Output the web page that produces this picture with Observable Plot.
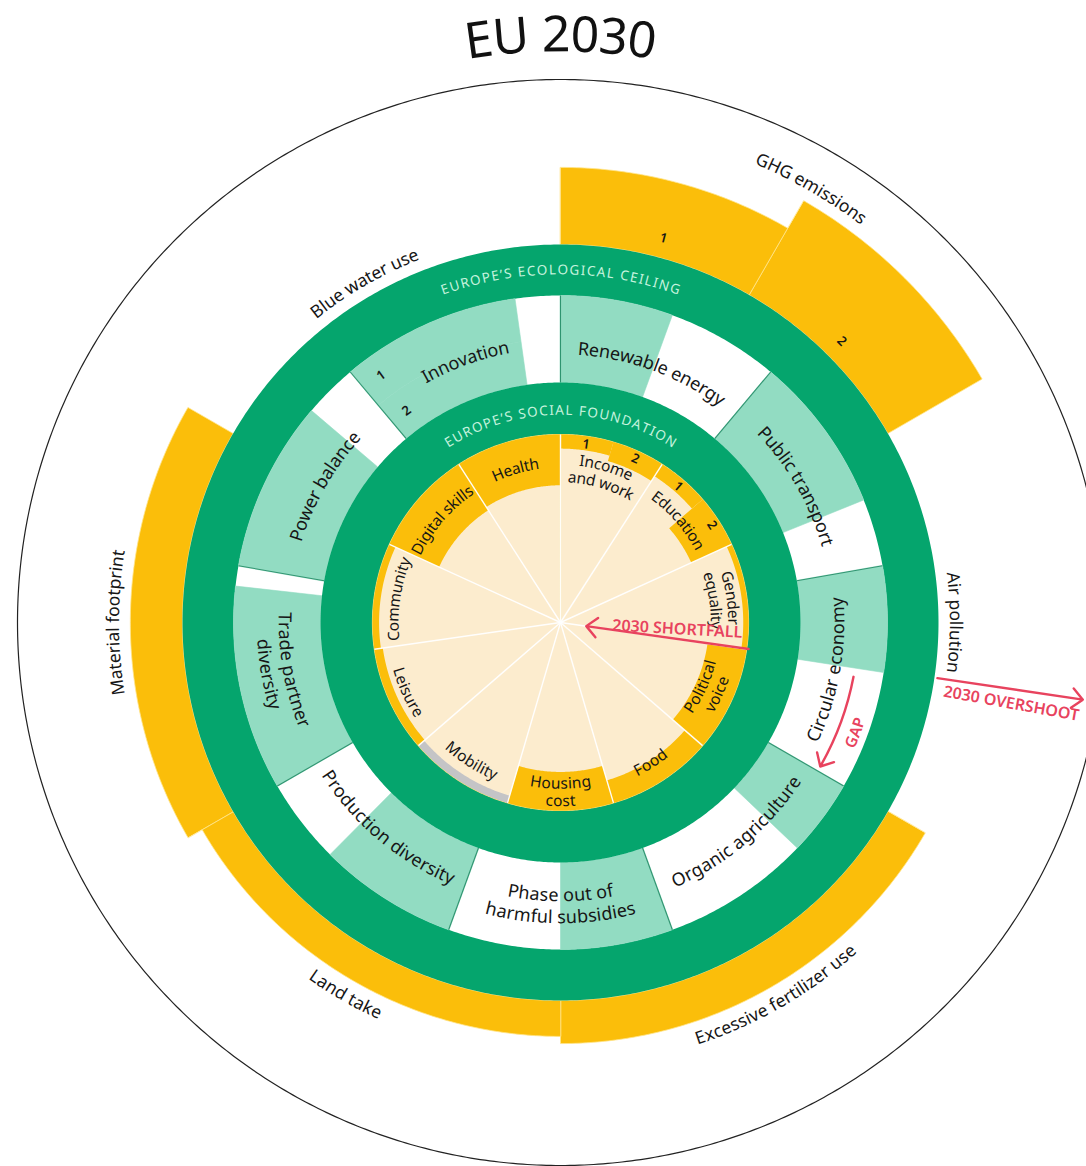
<!DOCTYPE html>
<html><head><meta charset="utf-8">
<script src="https://cdn.jsdelivr.net/npm/d3@7"></script>
<script src="https://cdn.jsdelivr.net/npm/@observablehq/plot@0.6"></script>
<style>html,body{margin:0;padding:0;background:#fff;overflow:hidden}</style>
</head><body><div id="chart"></div>
<script>
// ---------------- DATA ----------------
const title = "EU 2030";
// Social foundation: 11 dimensions clockwise from 12 o'clock; shortfall as share of foundation radius (sub-indicators as arrays, null = no data)
const socialLabels = ["Income\nand work","Education","Gender\nequality","Political\nvoice","Food","Housing\ncost","Mobility","Leisure","Community","Digital skills","Health"];
const socialShortfall = [[0.075,0.105],[0.075,0.235],[0.028],[0.21],[0.125],[0.205],[null],[0.045],[0.035],[0.29],[0.27]];
// Transformative dimensions (band between foundation and ceiling): progress share of each sector
const transformLabels = ["Renewable energy","Public transport","Circular economy","Organic agriculture","Phase out of\nharmful subsidies","Production diversity","Trade partner\ndiversity","Power balance","Innovation"];
const transformProgress = [[0.5],[0.7],[0.47],[0.34],[0.5],[0.62],[0.91],[0.76],[0.8,0.8]];
// Ecological ceiling: overshoot as share of ceiling radius
const ecoLabels = ["GHG emissions","Air pollution","Excessive fertilizer use","Land take","Material footprint","Blue water use"];
const ecoOvershoot = [[0.204,0.288],[0],[0.114],[0.095],[0.138],[0]];
const ringTitles = ["EUROPE\u2019S ECOLOGICAL CEILING","EUROPE\u2019S SOCIAL FOUNDATION"];
const annotations = ["2030 SHORTFALL","2030 OVERSHOOT","GAP"];

// ---------------- LAYOUT / STYLE ----------------
const W = 1086, H = 1166, CX = 560, CY = 622;
const R = {frame:543, found:188, foundRing:240, ceilIn:327, ceil:378, title:587};
const C = {dark:"#05a56d", light:"#92dcc2", orange:"#fbbe0a", cream:"#fcecce", gray:"#c4c4c6", red:"#e8435e", mint:"#c6f3de", ink:"#161616"};
const FONT = '"Noto Sans", sans-serif';
const NODATA = 0.04;
const rad = Math.PI/180;
const pol = (r,a) => ({x: r*Math.sin(a*rad), y: -r*Math.cos(a*rad)});

const ctx = document.createElement("canvas").getContext("2d");
function measure(ch,size,weight){ctx.font = `${weight} ${size}px ${FONT}`; return ctx.measureText(ch).width;}
const orientOf = a => (a > 90.5 && a < 269.5) ? "bottom" : "top";

function arcText(str, r, ac, size, orient, o={}) {
  const weight = o.weight || 400, spacing = o.spacing || 0, lhF = o.lh || 1.15;
  const lines = str.split("\n"), lh = size*lhF, out = [];
  lines.forEach((line,i) => {
    const off = (i - (lines.length-1)/2)*lh;
    const rr = orient === "top" ? r - off : r + off;
    const chars = [...line];
    const ws = chars.map(ch => measure(ch,size,weight) + spacing);
    const total = d3.sum(ws) - spacing;
    let cum = 0;
    chars.forEach((ch,j) => {
      const s = cum + (ws[j]-spacing)/2 - total/2;
      cum += ws[j];
      const da = s/rr/rad;
      const a = orient === "top" ? ac + da : ac - da;
      out.push({...pol(rr,a), ch, rot: orient === "top" ? a : a - 180});
    });
  });
  return out;
}

let sid = 0;
function wedge(r0,r1,a0,a1,fill){
  const id = sid++, pts = [], n = Math.max(2, Math.ceil(Math.abs(a1-a0)/0.5));
  for (let i=0;i<=n;i++) pts.push(pol(r1, a0+(a1-a0)*i/n));
  for (let i=n;i>=0;i--) pts.push(pol(r0, a0+(a1-a0)*i/n));
  return pts.map(p => ({...p, id, fill}));
}

// ---- shapes ----
const overshootShapes = [], bandShapes = [], socialShapes = [];
const subNumbers = [];
const eStep = 360/ecoLabels.length;
ecoOvershoot.forEach((subs,i) => {
  subs.forEach((v,j) => {
    const a0 = i*eStep + j*eStep/subs.length, a1 = a0 + eStep/subs.length;
    if (v > 0) overshootShapes.push(...wedge(R.ceil, R.ceil*(1+v), a0, a1, C.orange));
    if (subs.length > 1) subNumbers.push({t:String(j+1), r:R.ceil+20, a:(a0+a1)/2});
  });
});
const tStep = 360/transformLabels.length;
transformProgress.forEach((subs,i) => {
  const span = (R.ceilIn - R.foundRing)/subs.length;
  subs.forEach((p,j) => {
    const r1 = R.ceilIn - j*span, r0 = r1 - span;
    bandShapes.push(...wedge(r0, r1, i*tStep, i*tStep + p*tStep, C.light));
    if (subs.length > 1) subNumbers.push({t:String(j+1), r:(r0+r1)/2, a:i*tStep+4});
  });
});
const sStep = 360/socialLabels.length;
socialShortfall.forEach((subs,i) => {
  subs.forEach((v,j) => {
    const a0 = i*sStep + j*sStep/subs.length, a1 = a0 + sStep/subs.length;
    if (v === null) socialShapes.push(...wedge(R.found*(1-NODATA), R.found, a0, a1, C.gray));
    else socialShapes.push(...wedge(R.found*(1-v), R.found, a0, a1, C.orange));
    if (subs.length > 1) subNumbers.push({t:String(j+1), r:R.found-8, a:(a0+a1)/2});
  });
});
const outerRing = wedge(R.ceilIn, R.ceil, 0, 360, C.dark);
const innerRing = wedge(R.found, R.foundRing, 0, 360, C.dark);
const creamDisc = wedge(0, R.found, 0, 360, C.cream);
const frame = d3.range(0, 360.5, 0.5).map(a => pol(R.frame, a));

const dividers = transformLabels.map((_,i) => ({p:pol(R.foundRing, i*tStep), q:pol(R.ceilIn, i*tStep)}));
const spokes = socialLabels.map((_,i) => ({p:pol(0,0), q:pol(R.found, i*sStep)}));

// ---- texts ----
const titleChars = arcText(title, R.title, 0, 50, "top");
const ringChars = [
  ...arcText(ringTitles[0], (R.ceilIn+R.ceil)/2, 0, 13.5, "top", {spacing:1.5}),
  ...arcText(ringTitles[1], (R.found+R.foundRing)/2 - 2, 0, 13.5, "top", {spacing:1.5})
];
const ecoLabelR = ecoOvershoot.map(s => R.ceil*(1+d3.max(s)) + 17);
const ecoChars = ecoLabels.flatMap((l,i) => {
  const a = i*eStep + eStep/2;
  return arcText(l, ecoLabelR[i], a, 17.5, orientOf(a));
});
const bandLabelR = [274,278,278,283,284,278,287,277,280];
const bandChars = transformLabels.flatMap((l,i) => {
  const a = i*tStep + tStep/2;
  return arcText(l, bandLabelR[i], a, 18, orientOf(a), {lh:1.22});
});
const socialLabelR = [154,158,164,164,167,170,166,169,167,160,160];
const socialChars = socialLabels.flatMap((l,i) => {
  const a = i*sStep + sStep/2;
  return arcText(l, socialLabelR[i], a, 15.5, orientOf(a), {lh:1.12});
});
const numChars = subNumbers.flatMap(d => arcText(d.t, d.r, d.a, 13, orientOf(d.a), {weight:600}));

// ---- annotations ----
const shortA = 98, overA = 98.4;
const shortArrow = [{p:pol(R.found+2, shortA), q:pol(26, shortA)}];
const overArrow = [{p:pol(R.ceil+3, overA), q:pol(528, overA)}];
const gapArrow = [{p:pol(298, 100.5), q:pol(297, 119)}];
const annoTexts = [
  {...pol(117, 93.2), t:annotations[0], rot:93.2-90},
  {...pol(458, 100.2), t:annotations[1], rot:100.2-90}
];
const gapChars = arcText(annotations[2], 315, 110.5, 15.5, "bottom", {weight:600});

const textMark = (arr, size, fill, weight=400) => Plot.text(arr, {x:"x", y:"y", text:"ch", rotate:"rot", fontSize:size, fill, fontWeight:weight, fontFamily:FONT});
const arrowMark = (arr, bend) => Plot.arrow(arr, {x1:d=>d.p.x, y1:d=>d.p.y, x2:d=>d.q.x, y2:d=>d.q.y, bend, stroke:C.red, strokeWidth:2.4, headLength:9, headAngle:85});

const chart = Plot.plot({
  width: W, height: H, margin: 0,
  x: {domain:[-CX, W-CX], range:[0, W], axis:null},
  y: {domain:[-CY, H-CY], range:[0, H], axis:null},
  color: {type:"identity"},
  style: {background:"#fff", overflow:"visible"},
  marks: [
    Plot.line(frame, {x:"x", y:"y", stroke:"#222", strokeWidth:1.2, curve:"linear-closed"}),
    Plot.line(overshootShapes, {x:"x", y:"y", z:"id", fill:"fill", stroke:"#ffe48a", strokeWidth:0.8, curve:"linear-closed"}),
    Plot.line(outerRing, {x:"x", y:"y", z:"id", fill:"fill", stroke:"none", curve:"linear-closed"}),
    Plot.line(bandShapes, {x:"x", y:"y", z:"id", fill:"fill", stroke:"fill", strokeWidth:0.6, curve:"linear-closed"}),
    Plot.link(dividers, {x1:d=>d.p.x, y1:d=>d.p.y, x2:d=>d.q.x, y2:d=>d.q.y, stroke:"#2f9470", strokeWidth:1.1}),
    Plot.line(innerRing, {x:"x", y:"y", z:"id", fill:"fill", stroke:"none", curve:"linear-closed"}),
    Plot.line(creamDisc, {x:"x", y:"y", z:"id", fill:"fill", stroke:"#f1dc72", strokeWidth:1.2, curve:"linear-closed"}),
    Plot.line(socialShapes, {x:"x", y:"y", z:"id", fill:"fill", stroke:"none", curve:"linear-closed"}),
    Plot.link(spokes, {x1:d=>d.p.x, y1:d=>d.p.y, x2:d=>d.q.x, y2:d=>d.q.y, stroke:"#fff", strokeWidth:1.4, strokeOpacity:0.95}),
    textMark(titleChars, 50, "#111"),
    textMark(ringChars, 13.5, C.mint),
    textMark(ecoChars, 17.5, C.ink),
    textMark(bandChars, 18, C.ink),
    textMark(socialChars, 15.5, C.ink),
    textMark(numChars, 13, C.ink, 600),
    arrowMark(shortArrow, 0),
    arrowMark(overArrow, 0),
    arrowMark(gapArrow, 9.5),
    Plot.text(annoTexts, {x:"x", y:"y", text:"t", rotate:"rot", fill:C.red, fontSize:16, fontWeight:600, fontFamily:FONT}),
    textMark(gapChars, 15.5, C.red, 600)
  ]
});
document.getElementById("chart").appendChild(chart);
</script>
</body></html>
